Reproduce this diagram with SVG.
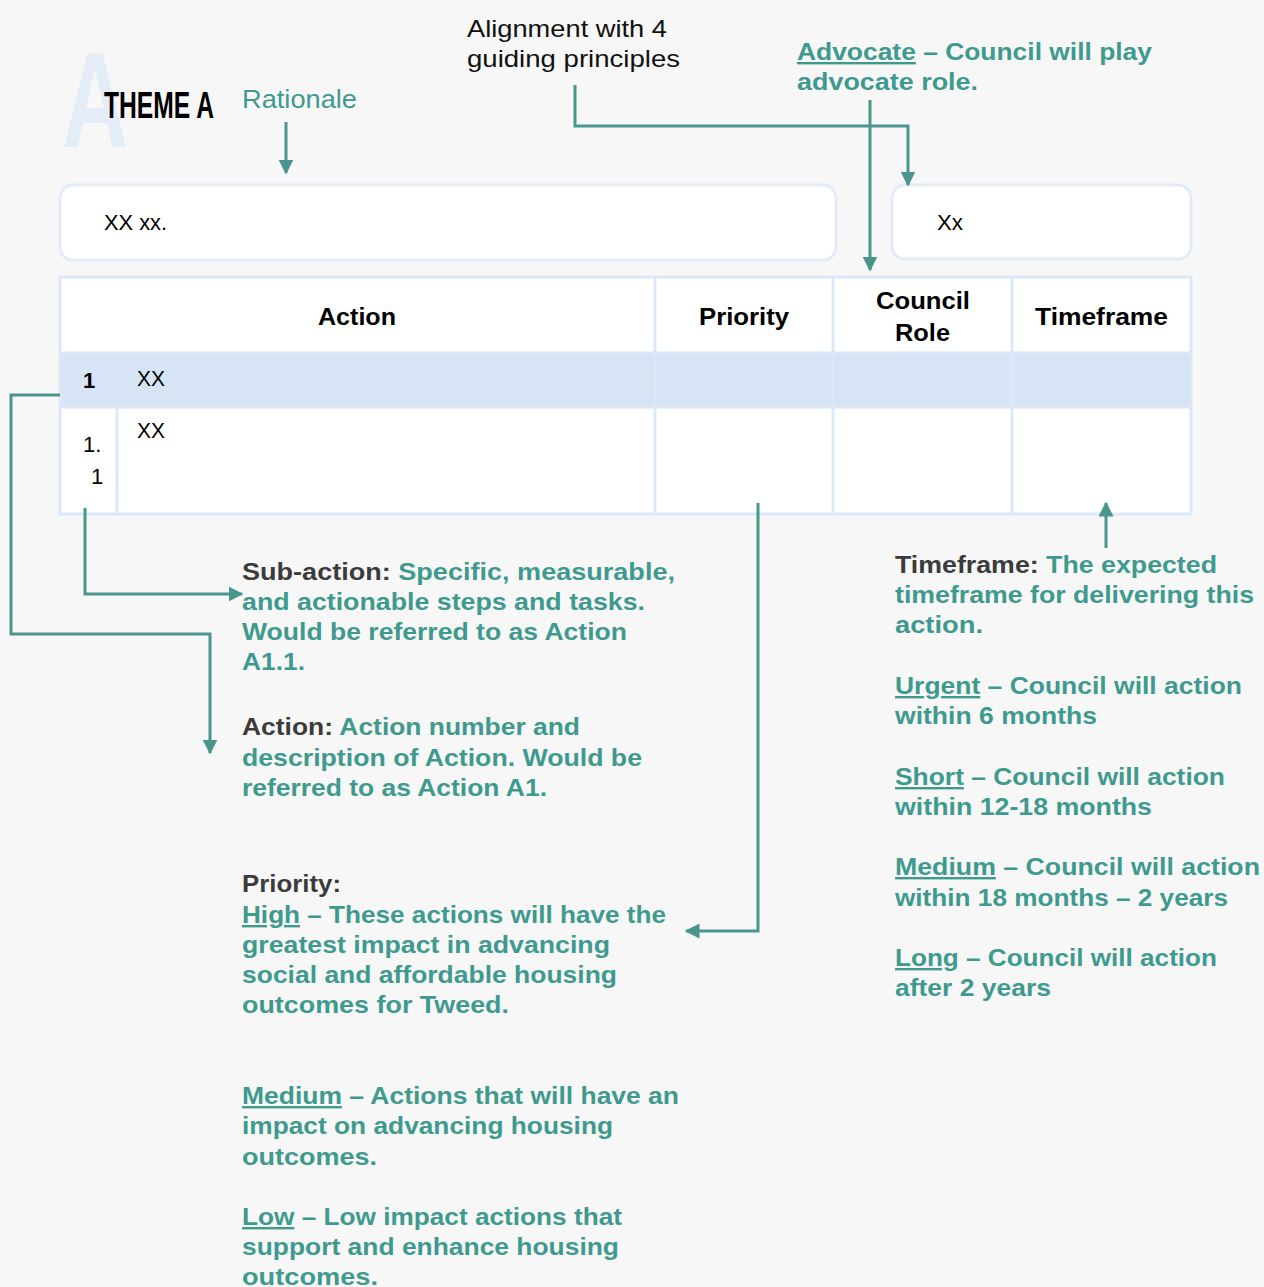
<svg xmlns="http://www.w3.org/2000/svg" width="1264" height="1287" viewBox="0 0 1264 1287">
<style>
.t{font-family:"Liberation Sans",Arial,sans-serif}
.tl{font-family:"Liberation Sans",Arial,sans-serif;font-size:24px;font-weight:bold;fill:#3f9a8e}
.dk{fill:#3b3b3b}
.u{text-decoration:underline}
.hd{font-family:"Liberation Sans",Arial,sans-serif;font-size:24px;font-weight:bold;fill:#000}
.cell{font-family:"Liberation Sans",Arial,sans-serif;font-size:22px;fill:#000}
.grid{stroke:#dce8f6;stroke-width:3;fill:none}
.conn{stroke:#4a968d;stroke-width:3;fill:none}
</style>
<defs>
<marker id="ah" viewBox="0 0 10 10" refX="9" refY="5" markerWidth="5" markerHeight="5" markerUnits="strokeWidth" orient="auto">
<path d="M0,0 L10,5 L0,10 z" fill="#4a968d"/>
</marker>
</defs>
<rect width="1264" height="1287" fill="#f7f7f7"/>

<g id="title">
<text class="t" x="62" y="147" font-size="135" font-weight="bold" fill="#e4edf7" textLength="66" lengthAdjust="spacingAndGlyphs">A</text>
<text class="t" x="104" y="118" font-size="36" font-weight="bold" fill="#000" textLength="110" lengthAdjust="spacingAndGlyphs">THEME A</text>
</g>

<g id="rationale-label">
<text class="t" x="242" y="108" font-size="25" fill="#3f9a8e" textLength="115" lengthAdjust="spacingAndGlyphs">Rationale</text>
</g>

<g id="alignment-label">
<text class="t" x="467" y="37" font-size="24" fill="#111" textLength="200" lengthAdjust="spacingAndGlyphs">Alignment with 4</text>
<text class="t" x="467" y="67" font-size="24" fill="#111" textLength="213" lengthAdjust="spacingAndGlyphs">guiding principles</text>
</g>

<g id="advocate-label">
<text class="tl" x="797" y="60" textLength="355" lengthAdjust="spacingAndGlyphs"><tspan class="u">Advocate</tspan> – Council will play</text>
<text class="tl" x="797" y="90" textLength="181" lengthAdjust="spacingAndGlyphs">advocate role.</text>
</g>

<g id="rationale-box">
<rect x="60" y="185" width="776" height="75" rx="13" fill="#fff" stroke="#e1ecf8" stroke-width="3"/>
<text class="cell" x="104" y="230" font-size="24" textLength="63" lengthAdjust="spacingAndGlyphs">XX xx.</text>
</g>

<g id="alignment-box">
<rect x="892" y="185" width="299" height="74" rx="13" fill="#fff" stroke="#e1ecf8" stroke-width="3"/>
<text class="cell" x="937" y="230" font-size="24" textLength="26" lengthAdjust="spacingAndGlyphs">Xx</text>
</g>

<g id="table">
<rect x="60" y="277" width="1131" height="237" fill="#fff"/>
<rect x="60" y="353" width="1131" height="54" fill="#d6e4f5"/>
<rect x="60" y="277" width="1131" height="237" class="grid"/>
<line x1="655" y1="277" x2="655" y2="514" class="grid"/>
<line x1="833" y1="277" x2="833" y2="514" class="grid"/>
<line x1="1012" y1="277" x2="1012" y2="514" class="grid"/>
<line x1="117" y1="407" x2="117" y2="514" class="grid"/>
<line x1="60" y1="353" x2="1191" y2="353" class="grid"/>
<line x1="60" y1="407" x2="1191" y2="407" class="grid"/>
<text class="hd" x="318" y="325" textLength="78" lengthAdjust="spacingAndGlyphs">Action</text>
<text class="hd" x="699" y="325" textLength="90" lengthAdjust="spacingAndGlyphs">Priority</text>
<text class="hd" x="876" y="309" textLength="94" lengthAdjust="spacingAndGlyphs">Council</text>
<text class="hd" x="895" y="341" textLength="55" lengthAdjust="spacingAndGlyphs">Role</text>
<text class="hd" x="1035" y="325" textLength="133" lengthAdjust="spacingAndGlyphs">Timeframe</text>
<text class="cell" x="83" y="388" font-weight="bold">1</text>
<text class="cell" x="137" y="386" font-size="24" textLength="28" lengthAdjust="spacingAndGlyphs">XX</text>
<text class="cell" x="137" y="438" font-size="24" textLength="28" lengthAdjust="spacingAndGlyphs">XX</text>
<text class="cell" x="83" y="452">1.</text>
<text class="cell" x="91" y="484">1</text>
</g>

<g id="connectors">
<path d="M286,122 V173" class="conn" marker-end="url(#ah)"/>
<path d="M575,85 V126 H908 V185" class="conn" marker-end="url(#ah)"/>
<path d="M870,100 V270" class="conn" marker-end="url(#ah)"/>
<path d="M60,395 H11 V634 H210 V753" class="conn" marker-end="url(#ah)"/>
<path d="M85,508 V594 H242" class="conn" marker-end="url(#ah)"/>
<path d="M758,503 V931 H686" class="conn" marker-end="url(#ah)"/>
<path d="M1106,548 V503" class="conn" marker-end="url(#ah)"/>
</g>

<g id="subaction-note">
<text class="tl" x="242" y="580" textLength="433" lengthAdjust="spacingAndGlyphs"><tspan class="dk">Sub-action:</tspan> Specific, measurable,</text>
<text class="tl" x="242" y="610" textLength="403" lengthAdjust="spacingAndGlyphs">and actionable steps and tasks.</text>
<text class="tl" x="242" y="640" textLength="385" lengthAdjust="spacingAndGlyphs">Would be referred to as Action</text>
<text class="tl" x="242" y="670" textLength="63" lengthAdjust="spacingAndGlyphs">A1.1.</text>
</g>

<g id="action-note">
<text class="tl" x="242" y="735" textLength="338" lengthAdjust="spacingAndGlyphs"><tspan class="dk">Action:</tspan> Action number and</text>
<text class="tl" x="242" y="766" textLength="400" lengthAdjust="spacingAndGlyphs">description of Action. Would be</text>
<text class="tl" x="242" y="796" textLength="305" lengthAdjust="spacingAndGlyphs">referred to as Action A1.</text>
</g>

<g id="priority-note">
<text class="tl dk" x="242" y="892" textLength="99" lengthAdjust="spacingAndGlyphs">Priority:</text>
<text class="tl" x="242" y="923" textLength="424" lengthAdjust="spacingAndGlyphs"><tspan class="u">High</tspan> – These actions will have the</text>
<text class="tl" x="242" y="953" textLength="368" lengthAdjust="spacingAndGlyphs">greatest impact in advancing</text>
<text class="tl" x="242" y="983" textLength="375" lengthAdjust="spacingAndGlyphs">social and affordable housing</text>
<text class="tl" x="242" y="1013" textLength="267" lengthAdjust="spacingAndGlyphs">outcomes for Tweed.</text>
<text class="tl" x="242" y="1104" textLength="437" lengthAdjust="spacingAndGlyphs"><tspan class="u">Medium</tspan> – Actions that will have an</text>
<text class="tl" x="242" y="1134" textLength="371" lengthAdjust="spacingAndGlyphs">impact on advancing housing</text>
<text class="tl" x="242" y="1165" textLength="135" lengthAdjust="spacingAndGlyphs">outcomes.</text>
<text class="tl" x="242" y="1225" textLength="380" lengthAdjust="spacingAndGlyphs"><tspan class="u">Low</tspan> – Low impact actions that</text>
<text class="tl" x="242" y="1255" textLength="377" lengthAdjust="spacingAndGlyphs">support and enhance housing</text>
<text class="tl" x="242" y="1285" textLength="136" lengthAdjust="spacingAndGlyphs">outcomes.</text>
</g>

<g id="timeframe-note">
<text class="tl" x="895" y="573" textLength="322" lengthAdjust="spacingAndGlyphs"><tspan class="dk">Timeframe:</tspan> The expected</text>
<text class="tl" x="895" y="603" textLength="359" lengthAdjust="spacingAndGlyphs">timeframe for delivering this</text>
<text class="tl" x="895" y="633" textLength="88" lengthAdjust="spacingAndGlyphs">action.</text>
<text class="tl" x="895" y="694" textLength="347" lengthAdjust="spacingAndGlyphs"><tspan class="u">Urgent</tspan> – Council will action</text>
<text class="tl" x="895" y="724" textLength="202" lengthAdjust="spacingAndGlyphs">within 6 months</text>
<text class="tl" x="895" y="785" textLength="330" lengthAdjust="spacingAndGlyphs"><tspan class="u">Short</tspan> – Council will action</text>
<text class="tl" x="895" y="815" textLength="257" lengthAdjust="spacingAndGlyphs">within 12-18 months</text>
<text class="tl" x="895" y="875" textLength="365" lengthAdjust="spacingAndGlyphs"><tspan class="u">Medium</tspan> – Council will action</text>
<text class="tl" x="895" y="906" textLength="333" lengthAdjust="spacingAndGlyphs">within 18 months – 2 years</text>
<text class="tl" x="895" y="966" textLength="322" lengthAdjust="spacingAndGlyphs"><tspan class="u">Long</tspan> – Council will action</text>
<text class="tl" x="895" y="996" textLength="156" lengthAdjust="spacingAndGlyphs">after 2 years</text>
</g>
</svg>
